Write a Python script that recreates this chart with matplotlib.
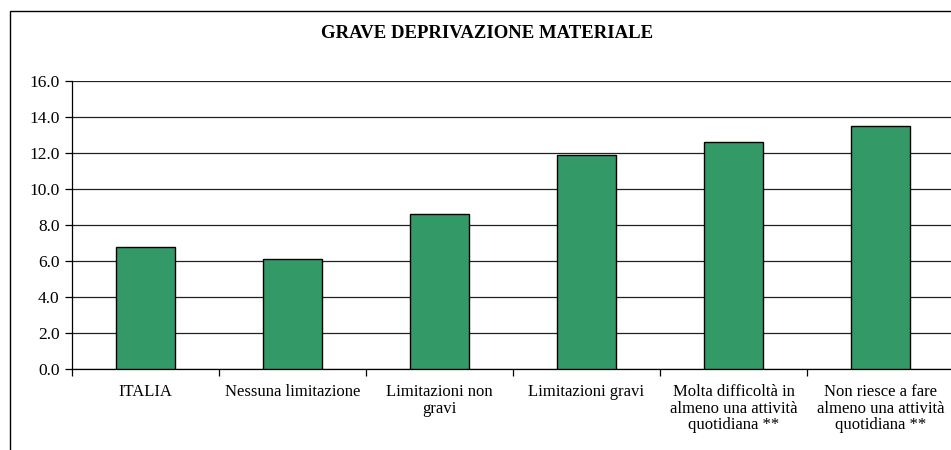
import matplotlib
matplotlib.use("Agg")
import matplotlib.pyplot as plt
from matplotlib.patches import Rectangle
import numpy as np

categories = ["ITALIA", "Nessuna limitazione", "Limitazioni non\ngravi", "Limitazioni gravi",
              "Molta difficoltà in\nalmeno una attività\nquotidiana **",
              "Non riesce a fare\nalmeno una attività\nquotidiana **"]
values = [6.8, 6.1, 8.6, 11.9, 12.6, 13.5]
yticks = [0, 2, 4, 6, 8, 10, 12, 14, 16]
title = "GRAVE DEPRIVAZIONE MATERIALE"

plt.rcParams['font.family'] = ['Liberation Serif', 'DejaVu Serif']

W, H = 951, 450
fig = plt.figure(figsize=(W / 100, H / 100), dpi=100)

# outer frame
fig.patches.append(Rectangle((10 / W, -0.1), 1.2, 1 - 11 / H + 0.1, transform=fig.transFigure,
                             fill=False, edgecolor='black', linewidth=1.0))

ax_left = 72 / W
ax_w = 6 * 147 / W
ax_bottom = 1 - 369 / H
ax_h = 288 / H
ax = fig.add_axes([ax_left, ax_bottom, ax_w, ax_h])

x = np.arange(len(categories))
ax.bar(x, values, width=0.4, color='#339966', edgecolor='black', linewidth=1.0, zorder=3)

ax.set_xlim(-0.5, len(categories) - 0.5)
ax.set_ylim(0, 16)
ax.set_yticks(yticks)
ax.set_yticklabels([f"{v:.1f}" for v in yticks], fontsize=12.5)
ax.yaxis.grid(True, color='#222222', linewidth=0.9, zorder=0)
ax.set_axisbelow(True)

ax.set_xticks(x)
ax.set_xticklabels(categories, fontsize=12, linespacing=1.02)
ax.tick_params(axis='x', which='major', length=0, pad=11)
ax.set_xticks(np.arange(-0.5, len(categories) + 0.5, 1), minor=True)
ax.tick_params(axis='x', which='minor', length=5, width=0.9, direction='out')
ax.tick_params(axis='y', length=5, width=0.9, direction='out', pad=4)

for s in ['top', 'right']:
    ax.spines[s].set_visible(False)
for s in ['left', 'bottom']:
    ax.spines[s].set_linewidth(0.9)

fig.text(487 / W, 1 - 34 / H, title, ha='center', va='center', fontsize=13.5, fontweight='bold')

fig.savefig("out.png", dpi=100)
